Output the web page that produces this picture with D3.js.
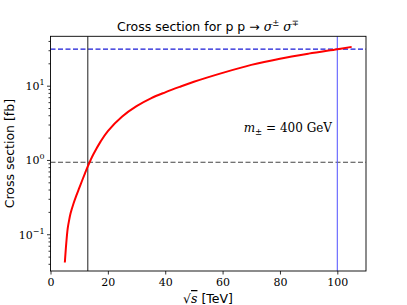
<!DOCTYPE html>
<html>
<head>
<meta charset="utf-8">
<script src="https://cdn.jsdelivr.net/npm/d3@7"></script>
<style>
  body { margin: 0; background: #fff; }
  svg { display: block; }
  .tick text { font-family: "DejaVu Serif", serif; font-size: 11px; fill: #000; }
</style>
</head>
<body>
<svg id="chart" width="407" height="305"></svg>
<script>
// sqrt(s) in TeV and cross section in fb
const sqrtS = [5, 5.5, 6, 6.5, 7, 8, 9, 10, 11, 12, 13, 14, 15, 17.5, 20, 25, 30, 35, 40, 45, 50, 60, 70, 80, 90, 100, 105];
const xsec = [0.0417, 0.0759, 0.120, 0.155, 0.191, 0.257, 0.331, 0.417, 0.525, 0.656, 0.817, 1.0, 1.20, 1.78, 2.45, 3.85, 5.3, 6.75, 8.13, 9.62, 11.27, 14.86, 19.05, 23.1, 27.0, 31.0, 33.3];
const xTicks = [0, 20, 40, 60, 80, 100];
const yTicks = [0.1, 1, 10];
const vLines = [{x: 13, color: "#333"}, {x: 100, color: "#6060ff"}];
const hLines = [{y: 0.93, color: "#444"}, {y: 31, color: "#1a1ad6"}];

const margin = {left: 50.5, right: 41, top: 36.3, bottom: 34};
const W = 407, H = 305;
const svg = d3.select("#chart");

const x = d3.scaleLinear().domain([0, 110]).range([margin.left, W - margin.right]);
const y = d3.scaleLog().domain([0.032, 46.2]).range([H - margin.bottom, margin.top]);

// minor ticks 2..9 for each decade inside the domain
const minor = [];
[0.01, 0.1, 1, 10].forEach(function(d) {
  for (let k = 2; k < 10; k++) {
    const v = d * k;
    if (v >= y.domain()[0] && v <= y.domain()[1]) minor.push(v);
  }
});

const xAxis = svg.append("g")
  .attr("transform", "translate(0," + (H - margin.bottom) + ")")
  .call(d3.axisBottom(x).tickValues(xTicks).tickSize(3.5).tickPadding(3.5));
xAxis.select(".domain").remove();

const yMinor = svg.append("g")
  .attr("transform", "translate(" + margin.left + ",0)")
  .call(d3.axisLeft(y).tickValues(minor).tickSize(2).tickFormat(""));
yMinor.select(".domain").remove();

const yAxis = svg.append("g")
  .attr("transform", "translate(" + margin.left + ",0)")
  .call(d3.axisLeft(y).tickValues(yTicks).tickSize(3.5).tickPadding(3.5).tickFormat(""));
yAxis.select(".domain").remove();
svg.selectAll(".tick line").attr("stroke", "#000").attr("stroke-width", 0.8);

// 10^n labels
yAxis.selectAll(".tick").append("text")
  .attr("x", -6).attr("dy", "0.35em")
  .attr("text-anchor", "end")
  .each(function(d) {
    const t = d3.select(this);
    const e = Math.round(Math.log10(d));
    t.append("tspan").text("10");
    t.append("tspan").attr("dy", -5).attr("font-size", 8).text(e < 0 ? "\u2212" + (-e) : e);
  });

// reference lines
const clipId = "plotclip";
svg.append("clipPath").attr("id", clipId).append("rect")
  .attr("x", margin.left).attr("y", margin.top)
  .attr("width", W - margin.right - margin.left).attr("height", H - margin.bottom - margin.top);
const plot = svg.append("g").attr("clip-path", "url(#" + clipId + ")");

plot.selectAll(".hline").data(hLines).enter().append("line")
  .attr("x1", margin.left).attr("x2", W - margin.right)
  .attr("y1", d => y(d.y)).attr("y2", d => y(d.y))
  .attr("stroke", d => d.color).attr("stroke-width", 1.1)
  .attr("stroke-dasharray", "5,2.5");

plot.selectAll(".vline").data(vLines).enter().append("line")
  .attr("y1", margin.top).attr("y2", H - margin.bottom)
  .attr("x1", d => x(d.x)).attr("x2", d => x(d.x))
  .attr("stroke", d => d.color).attr("stroke-width", 1.1);

const line = d3.line().curve(d3.curveCatmullRom.alpha(0.5))
  .x((d, i) => x(sqrtS[i])).y(d => y(d));
plot.append("path").datum(xsec)
  .attr("d", line).attr("fill", "none")
  .attr("stroke", "#f00").attr("stroke-width", 2);

// frame
svg.append("rect")
  .attr("x", margin.left).attr("y", margin.top)
  .attr("width", W - margin.right - margin.left).attr("height", H - margin.bottom - margin.top)
  .attr("fill", "none").attr("stroke", "#000").attr("stroke-width", 0.9);

// title
const title = svg.append("text")
  .attr("x", 208).attr("y", 31)
  .attr("text-anchor", "middle")
  .attr("font-family", "DejaVu Sans, sans-serif").attr("font-size", 12.5);
title.append("tspan").text("Cross section for p p \u2192 ");
title.append("tspan").attr("font-family", "DejaVu Serif, serif").attr("font-style", "italic").text("\u03c3");
title.append("tspan").attr("dy", -5).attr("font-size", 8.5).text("\u00b1");
title.append("tspan").attr("dy", 5).text(" ");
title.append("tspan").attr("font-family", "DejaVu Serif, serif").attr("font-style", "italic").text("\u03c3");
title.append("tspan").attr("dy", -5).attr("font-size", 8.5).text("\u2213");

// axis labels
svg.append("text")
  .attr("transform", "translate(14," + ((margin.top + H - margin.bottom) / 2) + ") rotate(-90)")
  .attr("text-anchor", "middle")
  .attr("font-family", "DejaVu Sans, sans-serif").attr("font-size", 12.5)
  .text("Cross section [fb]");

const xl = svg.append("text")
  .attr("x", 208).attr("y", 303)
  .attr("text-anchor", "middle")
  .attr("font-family", "DejaVu Sans, sans-serif").attr("font-size", 12.5);
xl.append("tspan").attr("font-family", "DejaVu Serif, serif").text("\u221a");
xl.append("tspan").attr("font-family", "DejaVu Serif, serif").attr("font-style", "italic")
  .attr("text-decoration", "overline").text("s");
xl.append("tspan").text(" [TeV]");

// annotation
const ann = svg.append("text")
  .attr("x", 332).attr("y", 132)
  .attr("text-anchor", "end")
  .attr("font-family", "DejaVu Serif, serif").attr("font-size", 12);
ann.append("tspan").attr("font-style", "italic").text("m");
ann.append("tspan").attr("dy", 3).attr("font-size", 8.5).text("\u00b1");
ann.append("tspan").attr("dy", -3).text(" = 400 GeV");
</script>
</body>
</html>
